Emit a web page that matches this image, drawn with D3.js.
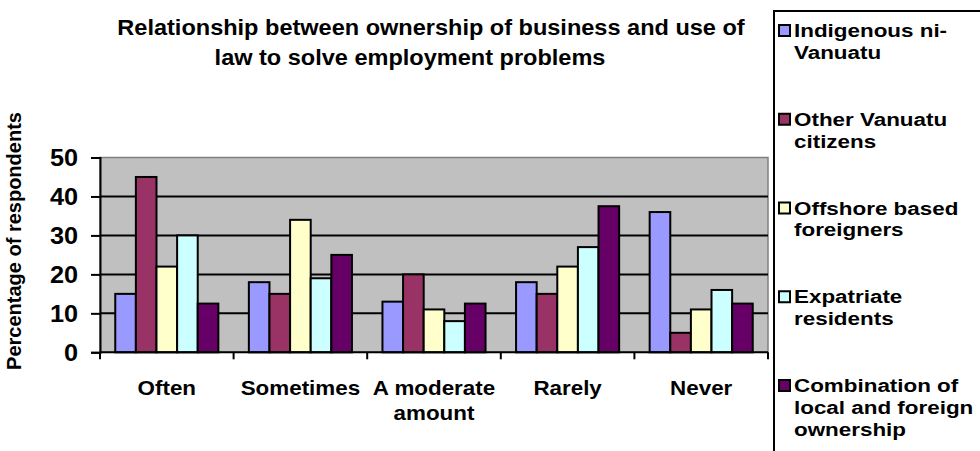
<!DOCTYPE html>
<html>
<head>
<meta charset="utf-8">
<script src="https://cdn.jsdelivr.net/npm/d3@7"></script>
<style>
  body { margin: 0; background: #fff; }
  svg { display: block; }
  text { font-family: "Liberation Sans", Arial, sans-serif; font-weight: bold; fill: #000; }
</style>
</head>
<body>
<svg width="980" height="451"></svg>
<script>
var categories = ['Often', 'Sometimes', 'A moderate amount', 'Rarely', 'Never'];
var categoryLines = [['Often'], ['Sometimes'], ['A moderate', 'amount'], ['Rarely'], ['Never']];
var seriesNames = [
  'Indigenous ni-Vanuatu',
  'Other Vanuatu citizens',
  'Offshore based foreigners',
  'Expatriate residents',
  'Combination of local and foreign ownership'
];
var legendLines = [
  ['Indigenous ni-', 'Vanuatu'],
  ['Other Vanuatu', 'citizens'],
  ['Offshore based', 'foreigners'],
  ['Expatriate', 'residents'],
  ['Combination of', 'local and foreign', 'ownership']
];
var indigenous = [15, 18, 13, 18, 36];
var otherCitizens = [45, 15, 20, 15, 5];
var offshore = [22, 34, 11, 22, 11];
var expatriate = [30, 19, 8, 27, 16];
var combination = [12.5, 25, 12.5, 37.5, 12.5];
var yTicks = [0, 10, 20, 30, 40, 50];
var colors = ['#9999FF', '#993366', '#FFFFCC', '#CCFFFF', '#660066'];

var seriesValues = [indigenous, otherCitizens, offshore, expatriate, combination];

var svg = d3.select('svg');
var plotLeft = 100, plotRight = 768, plotTop = 157.5, plotBottom = 352.3;

var x = d3.scaleBand().domain(categories).range([plotLeft, plotRight]);
var xInner = d3.scaleBand()
  .domain(d3.range(seriesNames.length))
  .range([0, x.bandwidth()])
  .paddingOuter(0.74);
var y = d3.scaleLinear().domain([0, 50]).range([plotBottom, plotTop]);

// text that is a little wider than normal, like the original picture
function wideText(parent, px, py, sx, size, lines, anchor, lineGap) {
  var t = parent.append('text')
    .attr('transform', 'translate(' + px + ',' + py + ') scale(' + sx + ',1)')
    .attr('text-anchor', anchor)
    .style('font-size', size + 'px');
  t.selectAll('tspan')
    .data(lines)
    .enter()
    .append('tspan')
    .attr('x', 0)
    .attr('y', (d, k) => k * lineGap)
    .text((d) => d);
  return t;
}

// title (two lines, the second one sits a bit to the left in the original)
wideText(svg, 431, 35, 1.07, 22, ['Relationship between ownership of business and use of'], 'middle', 0);
wideText(svg, 410, 65, 1.07, 22, ['law to solve employment problems'], 'middle', 0);

// plot background
svg.append('rect')
  .attr('x', plotLeft).attr('y', plotTop)
  .attr('width', plotRight - plotLeft).attr('height', plotBottom - plotTop)
  .attr('fill', '#C0C0C0')
  .attr('stroke', '#808080')
  .attr('stroke-width', 1.5);

// gridlines
svg.append('g')
  .selectAll('line')
  .data(yTicks.filter((d) => d > 0 && d < 50))
  .enter()
  .append('line')
  .attr('x1', plotLeft).attr('x2', plotRight)
  .attr('y1', (d) => y(d)).attr('y2', (d) => y(d))
  .attr('stroke', '#000')
  .attr('stroke-width', 2);

// bars
var groups = svg.append('g')
  .selectAll('g')
  .data(seriesValues)
  .enter()
  .append('g')
  .attr('fill', (d, i) => colors[i]);

groups.selectAll('rect')
  .data((d, i) => d.map((v, j) => ({ s: i, c: categories[j], v: v })))
  .enter()
  .append('rect')
  .attr('x', (d) => x(d.c) + xInner(d.s))
  .attr('y', (d) => y(d.v))
  .attr('width', xInner.bandwidth())
  .attr('height', (d) => y(0) - y(d.v))
  .attr('stroke', '#000')
  .attr('stroke-width', 2);

// y axis
var yAxis = svg.append('g')
  .attr('transform', 'translate(' + plotLeft + ',0)')
  .call(d3.axisLeft(y).tickValues(yTicks).tickSize(9));
yAxis.select('.domain').attr('stroke', '#000').attr('stroke-width', 2);
yAxis.selectAll('.tick line').attr('stroke', '#000').attr('stroke-width', 2);
yAxis.selectAll('.tick text')
  .attr('x', -22 / 1.1)
  .attr('dy', '0.36em')
  .attr('transform', 'scale(1.1,1)')
  .style('font-size', '23px')
  .style('font-family', '"Liberation Sans", Arial, sans-serif')
  .style('font-weight', 'bold');

// x axis
var xAxis = svg.append('g')
  .attr('transform', 'translate(0,' + plotBottom + ')');
xAxis.append('line')
  .attr('x1', plotLeft).attr('x2', plotRight)
  .attr('stroke', '#000').attr('stroke-width', 2);
xAxis.selectAll('.tk')
  .data(categories.map((c) => x(c)).concat([plotRight]))
  .enter()
  .append('line')
  .attr('x1', (d) => d).attr('x2', (d) => d)
  .attr('y1', 0).attr('y2', 7)
  .attr('stroke', '#000').attr('stroke-width', 2);

var xLabelG = svg.append('g');
categories.forEach(function (c, i) {
  wideText(xLabelG, x(c) + x.bandwidth() / 2, 395, 1.12, 20, categoryLines[i], 'middle', 25);
});

// y axis label
svg.append('text')
  .attr('transform', 'translate(21,241) rotate(-90)')
  .attr('text-anchor', 'middle')
  .style('font-size', '20px')
  .text('Percentage of respondents');

// legend
svg.append('rect')
  .attr('x', 774).attr('y', 11)
  .attr('width', 220).attr('height', 460)
  .attr('fill', '#fff')
  .attr('stroke', '#000')
  .attr('stroke-width', 2);

var legend = svg.append('g')
  .selectAll('g')
  .data(seriesNames)
  .enter()
  .append('g')
  .attr('transform', (d, i) => 'translate(0,' + (30 + i * 88.75) + ')');

legend.append('rect')
  .attr('x', 779).attr('y', -5)
  .attr('width', 11).attr('height', 11)
  .attr('fill', (d, i) => colors[i])
  .attr('stroke', '#000')
  .attr('stroke-width', 2);

legend.each(function (d, i) {
  wideText(d3.select(this), 794, 7, 1.18, 19, legendLines[i], 'start', 22);
});
</script>
</body>
</html>
